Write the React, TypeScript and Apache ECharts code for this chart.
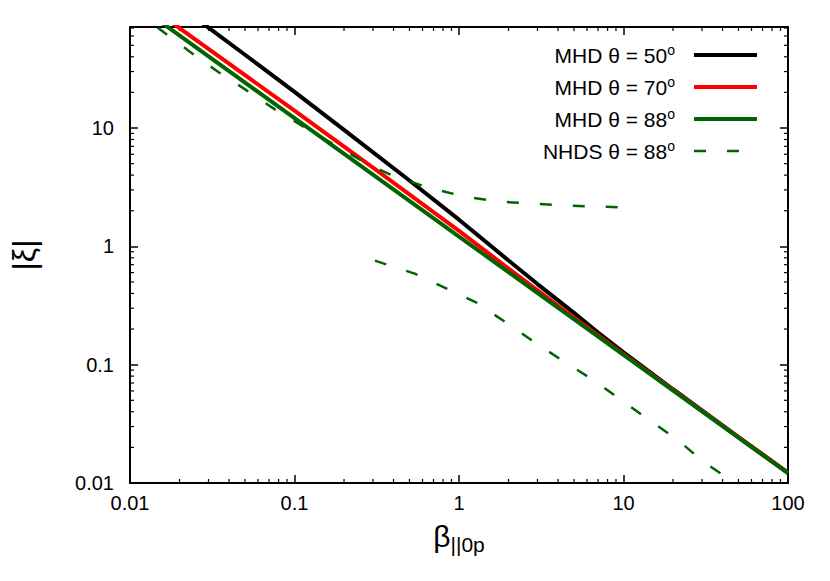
import React, { useEffect, useRef } from 'react';
import * as echarts from 'echarts';

const X_MIN = 0.01;
const X_MAX = 100;
const Y_MIN = 0.01;
const Y_MAX = 71.4;

const betaBlack = [0.02, 0.03, 0.05, 0.1, 0.2, 0.5, 1, 2, 3, 5, 7, 10, 20, 50, 100];
const xiBlack = [106, 70.5, 41.6, 20.2, 9.65, 3.6, 1.68, 0.76, 0.48, 0.274, 0.187, 0.127, 0.062, 0.0244, 0.0122];

const betaRed = [0.01, 0.02, 0.1, 0.3, 1, 2, 5, 10, 100];
const xiRed = [140, 70, 14.0, 4.63, 1.35, 0.65, 0.25, 0.123, 0.0122];

const betaGreen = [0.01, 0.1, 1, 10, 100];
const xiGreen = [121, 12.1, 1.21, 0.121, 0.0121];

const betaNhdsUpper = [0.0147, 0.0231, 0.0341, 0.0504, 0.0764, 0.116, 0.268, 0.407, 0.653, 1.08, 1.73, 2.75, 4.47, 7.08, 12.4];
const xiNhdsUpper = [70.6, 44.2, 30.0, 21.1, 14.3, 10.1, 5.10, 3.88, 3.14, 2.63, 2.39, 2.30, 2.21, 2.17, 2.11];

const betaNhdsLower = [0.308, 0.538, 0.817, 1.28, 1.94, 2.86, 4.35, 6.51, 9.62, 14.2, 21.3, 30.6, 47.7, 52];
const xiNhdsLower = [0.757, 0.588, 0.448, 0.334, 0.226, 0.156, 0.106, 0.0747, 0.0506, 0.0343, 0.0232, 0.0151, 0.0100, 0.0092];

const seriesNames = ['MHD θ = 50°', 'MHD θ = 70°', 'MHD θ = 88°', 'NHDS θ = 88°'];
const legendLabels = ['MHD θ = 50{sup|o}', 'MHD θ = 70{sup|o}', 'MHD θ = 88{sup|o}', 'NHDS θ = 88{sup|o}'];

const decades = [0.01, 0.1, 1, 10];
const minorX: number[] = [];
const minorY: number[] = [];
for (const d of decades) {
  for (let k = 2; k <= 9; k++) {
    const v = +(d * k).toPrecision(3);
    if (v < X_MAX) minorX.push(v);
    if (v < Y_MAX) minorY.push(v);
  }
}

const FONT = 'Liberation Sans, Arial, sans-serif';
const GREEN = '#006400';

const zip = (a: number[], b: number[]) => a.map((v, i) => [v, b[i]]);

const axisCommon = {
  type: 'log',
  logBase: 10,
  axisLine: { show: true, onZero: false, lineStyle: { color: '#000', width: 2 } },
  axisTick: { show: true, inside: true, length: 8, lineStyle: { color: '#000', width: 1.5 } },
  splitLine: { show: false },
  minorTick: { show: false },
};

const option: any = {
  animation: false,
  backgroundColor: '#fff',
  grid: { left: 127, right: 42, top: 27, bottom: 98, containLabel: false },
  xAxis: [
    {
      ...axisCommon,
      min: X_MIN,
      max: X_MAX,
      position: 'bottom',
      axisLabel: { color: '#000', fontFamily: FONT, fontSize: 20, margin: 10 },
      name: '{b|β}{s|||0p}',
      nameLocation: 'middle',
      nameGap: 38,
      nameTextStyle: {
        color: '#000',
        fontFamily: FONT,
        rich: {
          b: { fontSize: 30, fontFamily: FONT, color: '#000', verticalAlign: 'top', lineHeight: 34 },
          s: { fontSize: 21, fontFamily: FONT, color: '#000', verticalAlign: 'bottom', lineHeight: 34, padding: [14, 0, 0, 0] },
        },
      },
    },
    {
      ...axisCommon,
      min: X_MIN,
      max: X_MAX,
      position: 'top',
      axisLabel: { show: false },
    },
  ],
  yAxis: [
    {
      ...axisCommon,
      min: Y_MIN,
      max: Y_MAX,
      position: 'left',
      axisLabel: { color: '#000', fontFamily: FONT, fontSize: 20, margin: 16, showMaxLabel: false },
      name: '|ξ|',
      nameLocation: 'middle',
      nameGap: 90,
      nameRotate: 90,
      nameTextStyle: { color: '#000', fontFamily: FONT, fontSize: 32 },
    },
    {
      ...axisCommon,
      min: Y_MIN,
      max: Y_MAX,
      position: 'right',
      axisLabel: { show: false },
    },
  ],
  legend: {
    data: [
      { name: seriesNames[0], lineStyle: { width: 4 } },
      { name: seriesNames[1], lineStyle: { width: 4 } },
      { name: seriesNames[2], lineStyle: { width: 4 } },
      { name: seriesNames[3], lineStyle: { width: 2.5 } },
    ],
    orient: 'vertical',
    right: 66,
    top: 38,
    align: 'right',
    itemWidth: 63,
    itemHeight: 14,
    itemGap: 8,
    itemStyle: { opacity: 0 },
    formatter: (name: string) => legendLabels[seriesNames.indexOf(name)],
    textStyle: {
      fontFamily: FONT,
      fontSize: 21,
      color: '#000',
      lineHeight: 24,
      padding: [0, 14, 0, 0],
      rich: {
        sup: { fontSize: 14, fontFamily: FONT, color: '#000', verticalAlign: 'top', lineHeight: 24 },
      },
    },
  },
  series: [
    {
      name: seriesNames[0],
      type: 'line',
      data: zip(betaBlack, xiBlack),
      symbol: 'none',
      clip: true,
      lineStyle: { color: '#000', width: 4 },
      itemStyle: { color: '#000' },
    },
    {
      name: seriesNames[1],
      type: 'line',
      data: zip(betaRed, xiRed),
      symbol: 'none',
      clip: true,
      lineStyle: { color: '#ff0000', width: 4 },
      itemStyle: { color: '#ff0000' },
    },
    {
      name: seriesNames[2],
      type: 'line',
      data: zip(betaGreen, xiGreen),
      symbol: 'none',
      clip: true,
      lineStyle: { color: GREEN, width: 4 },
      itemStyle: { color: GREEN },
    },
    {
      name: seriesNames[3],
      type: 'line',
      data: zip(betaNhdsUpper, xiNhdsUpper),
      symbol: 'none',
      clip: true,
      lineStyle: { color: GREEN, width: 2.5, type: [12, 21] },
      itemStyle: { color: GREEN },
    },
    {
      name: seriesNames[3],
      type: 'line',
      data: zip(betaNhdsLower, xiNhdsLower),
      symbol: 'none',
      clip: true,
      lineStyle: { color: GREEN, width: 2.5, type: [12, 21] },
      itemStyle: { color: GREEN },
    },
    {
      type: 'custom',
      silent: true,
      data: minorX.map((v) => [v, Y_MIN]),
      renderItem: (params: any, api: any) => {
        const p = api.coord([api.value(0), Y_MIN]);
        const cs = params.coordSys;
        const style = { stroke: '#000', lineWidth: 1.2 };
        return {
          type: 'group',
          children: [
            { type: 'line', shape: { x1: p[0], y1: cs.y + cs.height, x2: p[0], y2: cs.y + cs.height - 4 }, style },
            { type: 'line', shape: { x1: p[0], y1: cs.y, x2: p[0], y2: cs.y + 4 }, style },
          ],
        };
      },
    },
    {
      type: 'custom',
      silent: true,
      data: minorY.map((v) => [X_MIN, v]),
      renderItem: (params: any, api: any) => {
        const p = api.coord([X_MIN, api.value(1)]);
        const cs = params.coordSys;
        const style = { stroke: '#000', lineWidth: 1.2 };
        return {
          type: 'group',
          children: [
            { type: 'line', shape: { x1: cs.x, y1: p[1], x2: cs.x + 4, y2: p[1] }, style },
            { type: 'line', shape: { x1: cs.x + cs.width, y1: p[1], x2: cs.x + cs.width - 4, y2: p[1] }, style },
          ],
        };
      },
    },
  ],
};

export default function App() {
  const ref = useRef<HTMLDivElement>(null);
  useEffect(() => {
    const chart = echarts.init(ref.current!, null, { renderer: 'svg' });
    chart.setOption(option);
    return () => chart.dispose();
  }, []);
  return (
    <div
      ref={ref}
      style={{ position: 'fixed', left: 0, top: 0, width: 830, height: 581, background: '#fff' }}
    />
  );
}
